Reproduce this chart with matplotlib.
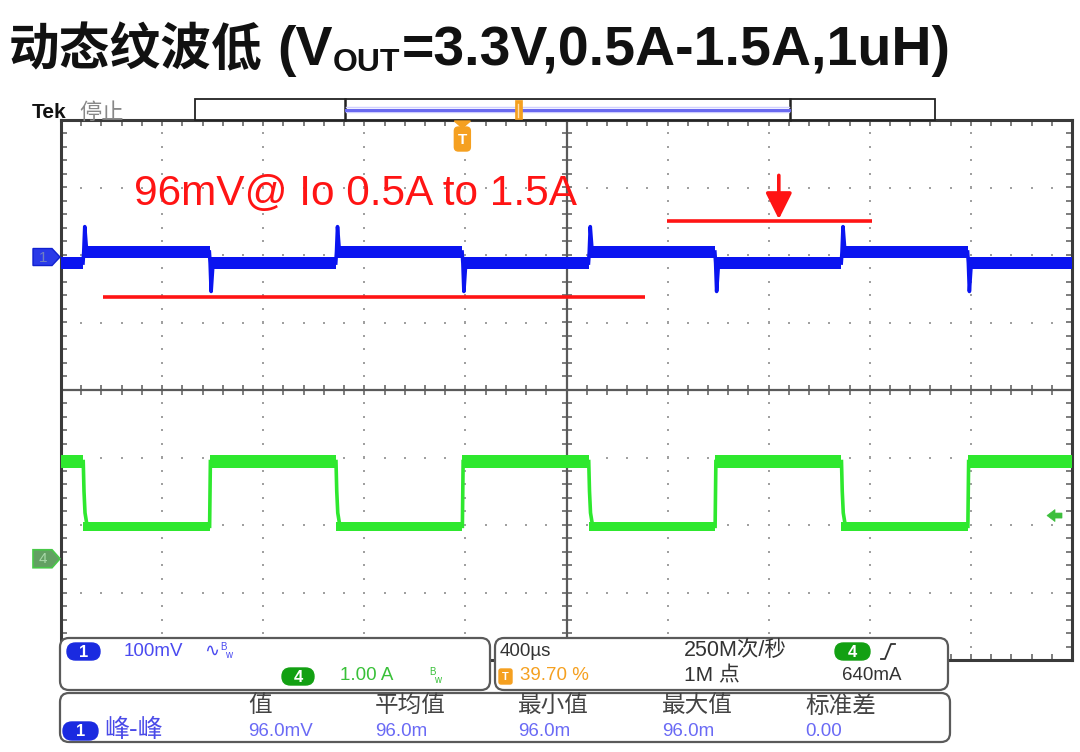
import numpy as np
import matplotlib
matplotlib.use('Agg')
import matplotlib.pyplot as plt
from matplotlib.patches import FancyBboxPatch, Polygon, Rectangle
from matplotlib.transforms import Affine2D

# ---------------- data ----------------
title_cn = "动态纹波低"
title_pre = "(V"
title_sub = "OUT"
title_post = "=3.3V,0.5A-1.5A,1uH)"
annot_text = "96mV@ Io 0.5A to 1.5A"

time_per_div_us = 400
n_hdiv = 10
n_vdiv = 8
trigger_pos_pct = 39.70

ch1_scale_mV = 100
ch1_offset_div = 1.97
ch4_scale_A = 1.0
ch4_offset_div = -2.5
trigger_level_A = 0.64

load_down_us = [-1500, -500, 500, 1500]   # load 1.5A -> 0.5A
load_up_us = [-1000, 0, 1000, 2000]       # load 0.5A -> 1.5A
i_low_A = 0.48
i_high_A = 1.44
v_light_mV = 7.4       # Vout ripple level at 0.5 A
v_heavy_mV = -8.9      # Vout ripple level at 1.5 A
v_overshoot_mV = 45
v_undershoot_mV = -51

annot_lines_mV = [-59, 53]
annot_lines_t_us = [(-1422, 722), (809, 1620)]
annot_arrow_t_us = 1252
annot_arrow_mV = (121, 56)
annot_text_pos = (-1298, 77)

meas_headers = ["值", "平均值", "最小值", "最大值", "标准差"]
meas_values = ["96.0mV", "96.0m", "96.0m", "96.0m", "0.00"]
meas_name = "峰-峰"

# ---------------- fonts / colours ----------------
CJK = ['Noto Sans CJK SC', 'DejaVu Sans']
LAT = ['Liberation Sans', 'Noto Sans CJK SC', 'DejaVu Sans']
C_BLUE = '#0a14f0'
C_GREEN = '#2ee82e'
C_RED = '#ff1414'
C_ORANGE = '#f5a020'

W, H = 1080, 752
fig = plt.figure(figsize=(W / 100, H / 100), dpi=100)
fig.patch.set_facecolor('white')
PX = Affine2D().scale(1.0 / W, -1.0 / H).translate(0, 1) + fig.transFigure

scr_l, scr_r, scr_t, scr_b = 61, 1072, 120, 660
rect = [scr_l / W, 1 - scr_b / H, (scr_r - scr_l) / W, (scr_b - scr_t) / H]

# ---------------- graticule ----------------
ax = fig.add_axes(rect)
hx, hy = n_hdiv / 2, n_vdiv / 2
ax.set_xlim(-hx, hx)
ax.set_ylim(-hy, hy)
ax.set_xticks([])
ax.set_yticks([])
for s in ax.spines.values():
    s.set_color('#3a3a3a')
    s.set_linewidth(2.2)
suby = np.arange(-hy, hy + 1e-9, 0.2)
subx = np.arange(-hx, hx + 1e-9, 0.2)
for gx in range(-int(hx) + 1, int(hx)):
    if gx == 0:
        continue
    ax.plot(np.full_like(suby, gx), suby, ls='none', marker='s', ms=1.6,
            mew=0, color='#a0a0a0')
for gy in range(-int(hy) + 1, int(hy)):
    if gy == 0:
        continue
    ax.plot(subx, np.full_like(subx, gy), ls='none', marker='s', ms=1.6,
            mew=0, color='#a0a0a0')
ax.axhline(0, color='#5a5a5a', lw=1.6)
ax.axvline(0, color='#5a5a5a', lw=1.6)
ax.plot(subx, np.zeros_like(subx), ls='none', marker='|', ms=7, mew=1.1, color='#5a5a5a')
ax.plot(np.zeros_like(suby), suby, ls='none', marker='_', ms=7, mew=1.1, color='#5a5a5a')
for yb in (-hy, hy):
    ax.plot(subx, np.full_like(subx, yb), ls='none', marker='|', ms=9, mew=1.1, color='#5a5a5a')
for xb in (-hx, hx):
    ax.plot(np.full_like(suby, xb), suby, ls='none', marker='_', ms=9, mew=1.1, color='#5a5a5a')

# ---------------- channel axes ----------------
t_min = -trigger_pos_pct / 100 * n_hdiv * time_per_div_us
t_max = t_min + n_hdiv * time_per_div_us


def chan_axes(scale, offset, label):
    a = fig.add_axes(rect, label=label)
    a.set_xlim(t_min, t_max)
    a.set_ylim((-hy - offset) * scale, (hy - offset) * scale)
    a.axis('off')
    a.patch.set_alpha(0)
    return a


ax1 = chan_axes(ch1_scale_mV, ch1_offset_div, 'ch1')
ax4 = chan_axes(ch4_scale_A, ch4_offset_div, 'ch4')

events = sorted([(t, 'down') for t in load_down_us] + [(t, 'up') for t in load_up_us])

# step levels
t_steps = [t_min]
v_steps = [v_heavy_mV]
i_steps = [i_high_A]
for t, k in events:
    t_steps.append(t)
    v_steps.append(v_light_mV if k == 'down' else v_heavy_mV)
    i_steps.append(i_low_A if k == 'down' else i_high_A)
t_steps.append(t_max)
v_steps.append(v_steps[-1])
i_steps.append(i_steps[-1])
t_steps = np.array(t_steps)
v_steps = np.array(v_steps)
i_steps = np.array(i_steps)

ax1.fill_between(t_steps, v_steps - 8.5, v_steps + 8.5, step='post', color=C_BLUE, lw=0)
hw4 = np.where(i_steps > 1.0, 0.09, 0.065)
ax4.fill_between(t_steps, i_steps - hw4, i_steps + hw4, step='post', color=C_GREEN, lw=0)

for t, k in events:
    if k == 'down':
        ts = [t - 1, t + 2, t + 6, t + 12, t + 22]
        vs = [v_heavy_mV, v_light_mV, v_overshoot_mV, v_light_mV + 8, v_light_mV]
        ti = [t, t + 3, t + 7, t + 13, t + 22]
        ii = [i_high_A, 1.0, 0.68, 0.54, i_low_A]
    else:
        ts = [t - 1, t + 2, t + 6, t + 12, t + 22]
        vs = [v_light_mV, v_heavy_mV, v_undershoot_mV, v_heavy_mV - 8, v_heavy_mV]
        ti = [t, t + 3]
        ii = [i_low_A, i_high_A]
    ax1.plot(ts, vs, color=C_BLUE, lw=2.6, solid_joinstyle='round')
    ax4.plot(ti, ii, color=C_GREEN, lw=2.6)

# ---------------- red annotations ----------------
for yv, (ta, tb) in zip(annot_lines_mV, annot_lines_t_us):
    ax1.plot([ta, tb], [yv, yv], color=C_RED, lw=2.6, solid_capstyle='butt')
ax1.annotate('', xy=(annot_arrow_t_us, annot_arrow_mV[1]),
             xytext=(annot_arrow_t_us, annot_arrow_mV[0]),
             arrowprops=dict(arrowstyle='-|>,head_length=1.0,head_width=0.5',
                             color=C_RED, lw=2.6, mutation_scale=16,
                             shrinkA=0, shrinkB=0))
ax1.text(annot_text_pos[0], annot_text_pos[1], annot_text, color=C_RED,
         fontsize=30.5, family=LAT, va='baseline', ha='left')

# ---------------- helpers in pixel coords ----------------
def data_px(a, x, y):
    d = a.transData.transform((x, y))
    return d[0], H - d[1]


def ftext(x, y, s, **kw):
    kw.setdefault('transform', PX)
    return fig.text(x, y, s, **kw)


def poly(pts, **kw):
    p = Polygon(pts, closed=True, transform=PX, **kw)
    fig.patches.append(p)
    return p


def rbox(x0, y0, x1, y1, r, **kw):
    p = FancyBboxPatch((x0, y0), x1 - x0, y1 - y0,
                       boxstyle=f'round,pad=0,rounding_size={r}',
                       transform=PX, **kw)
    fig.patches.append(p)
    return p


def pill(x0, y0, x1, y1, color, s):
    rbox(x0, y0, x1, y1, (y1 - y0) / 2, facecolor=color, edgecolor=color, lw=1, zorder=5)
    ftext((x0 + x1) / 2, (y0 + y1) / 2 + 1, s, color='white', fontsize=12,
          fontweight='bold', family=LAT, ha='center', va='center', zorder=6)


# channel markers on the left
_, y1p = data_px(ax1, 0, 0)
poly([(33, y1p - 8.5), (52, y1p - 8.5), (60, y1p), (52, y1p + 8.5), (33, y1p + 8.5)],
     facecolor='#2a3ae8', edgecolor='#1020d0', lw=1, zorder=5)
ftext(43, y1p + 0.5, '1', color='#7080c0', fontsize=11, family=LAT, ha='center',
      va='center', zorder=6)
_, y4p = data_px(ax4, 0, 0)
poly([(33, y4p - 9), (52, y4p - 9), (60, y4p), (52, y4p + 9), (33, y4p + 9)],
     facecolor='#62a062', edgecolor='#48c848', lw=1.2, zorder=5)
ftext(43, y4p + 0.5, '4', color='#a8d8a8', fontsize=11, family=LAT, ha='center',
      va='center', zorder=6)

# trigger level arrow on the right
_, ytl = data_px(ax4, 0, trigger_level_A)
poly([(1047, ytl), (1055, ytl - 6), (1055, ytl - 2.5), (1062, ytl - 2.5),
      (1062, ytl + 2.5), (1055, ytl + 2.5), (1055, ytl + 6)],
     facecolor='#3cbf3c', edgecolor='#3cbf3c', lw=0.5, zorder=5)

# trigger position marker
xtp, _ = data_px(ax1, 0, 0)
poly([(xtp - 8, 121), (xtp + 8, 121), (xtp, 128)], facecolor=C_ORANGE,
     edgecolor=C_ORANGE, zorder=5)
rbox(xtp - 8, 127, xtp + 8, 151, 4, facecolor=C_ORANGE, edgecolor=C_ORANGE, zorder=5)
ftext(xtp, 140, 'T', color='white', fontsize=11, fontweight='bold', family=LAT,
      ha='center', va='center', zorder=6)

# ---------------- top bar ----------------
fig.patches.append(Rectangle((195, 99), 740, 21, transform=PX, facecolor='white',
                             edgecolor='#222222', lw=1.3, zorder=4))
for xb in (345, 790):
    fig.lines.append(plt.Line2D([xb, xb], [99, 120], transform=PX, color='#222222',
                                lw=1.8, zorder=5))
fig.lines.append(plt.Line2D([346, 789], [107, 107], transform=PX, color='#d0d0ff', lw=1, zorder=5))
fig.lines.append(plt.Line2D([346, 789], [112, 112], transform=PX, color='#d0d0ff', lw=1, zorder=5))
fig.lines.append(plt.Line2D([346, 789], [109.5, 109.5], transform=PX, color='#6a6af0', lw=2.2, zorder=5))
fig.patches.append(Rectangle((514.5, 100), 7, 19, transform=PX, facecolor=C_ORANGE,
                             edgecolor=C_ORANGE, lw=0.5, zorder=6))
fig.lines.append(plt.Line2D([518, 518], [104, 117], transform=PX, color='#ffe0b0', lw=1, zorder=7))

ftext(32, 118, 'Tek', color='#111111', fontsize=15, fontweight='bold', family=LAT,
      va='baseline')
ftext(79, 119, '停止', color='#888888', fontsize=16, family=CJK, va='baseline')

# ---------------- title ----------------
renderer = fig.canvas.get_renderer()
tb = 65
t0 = ftext(9, tb, title_cn, color='#111111', fontsize=36.5, fontweight='heavy',
           family=CJK, va='baseline')
x = t0.get_window_extent(renderer).x1 + 14
t1 = ftext(x, tb, title_pre, color='#111111', fontsize=40, fontweight='bold',
           family=LAT, va='baseline')
x = t1.get_window_extent(renderer).x1 + 1
t2 = ftext(x, tb + 6, title_sub, color='#111111', fontsize=23, fontweight='bold',
           family=LAT, va='baseline')
x = t2.get_window_extent(renderer).x1 + 1
ftext(x, tb, title_post, color='#111111', fontsize=40, fontweight='bold',
      family=LAT, va='baseline')

# ---------------- bottom panels ----------------
PE = dict(facecolor='white', edgecolor='#5a5a5a', lw=1.6, zorder=4)
rbox(60, 638, 490, 690, 9, **PE)
rbox(495, 638, 948, 690, 9, **PE)
rbox(60, 693, 950, 742, 9, **PE)

TB = dict(family=LAT, va='center', zorder=6)
LS = 13.5
# panel A
pill(67, 643, 100, 660, '#1a2ae0', '1')
ftext(124, 651, '100mV', color='#4a4af0', fontsize=LS, **TB)
ftext(204, 651, '∿', color='#4a4af0', fontsize=13, family=['DejaVu Sans'], va='center', zorder=6)
ftext(220, 647, 'B', color='#4a4af0', fontsize=7, **TB)
ftext(225, 655, 'w', color='#4a4af0', fontsize=7, **TB)
pill(282, 668, 314, 685, '#12a012', '4')
ftext(340, 676, '1.00 A', color='#38c038', fontsize=LS, **TB)
ftext(429, 672, 'B', color='#38c038', fontsize=7, **TB)
ftext(434, 680, 'w', color='#38c038', fontsize=7, **TB)

# panel B
ftext(500, 651, '400µs', color='#333333', fontsize=LS, **TB)
rbox(499, 669, 512, 684, 2, facecolor=C_ORANGE, edgecolor=C_ORANGE, zorder=5)
ftext(505.5, 676.5, 'T', color='white', fontsize=8, fontweight='bold', family=LAT,
      ha='center', va='center', zorder=6)
ftext(520, 676, '39.70 %', color=C_ORANGE, fontsize=LS, **TB)
ftext(684, 651, '250M次/秒', color='#333333', fontsize=15.5, **TB)
ftext(684, 676, '1M 点', color='#333333', fontsize=15, **TB)
pill(835, 643, 870, 660, '#12a012', '4')
fig.lines.append(plt.Line2D([881, 885, 891, 895], [659, 659, 644, 644], transform=PX,
                            color='#333333', lw=1.3, zorder=6))
ftext(842, 676, '640mA', color='#333333', fontsize=LS, **TB)

# panel C
col_x = [248, 375, 518, 662, 805]
for cx, hd, vl in zip(col_x, meas_headers, meas_values):
    ftext(cx, 706, hd, color='#444444', fontsize=17, family=CJK, va='center', zorder=6)
    ftext(cx, 731, vl, color='#6a6af5', fontsize=13.5, **TB)
pill(63, 722, 98, 740, '#1a2ae0', '1')
ftext(104, 730, meas_name, color='#4a4ae8', fontsize=18, family=CJK, va='center', zorder=6)

fig.savefig('out.png', dpi=100, facecolor='white')
